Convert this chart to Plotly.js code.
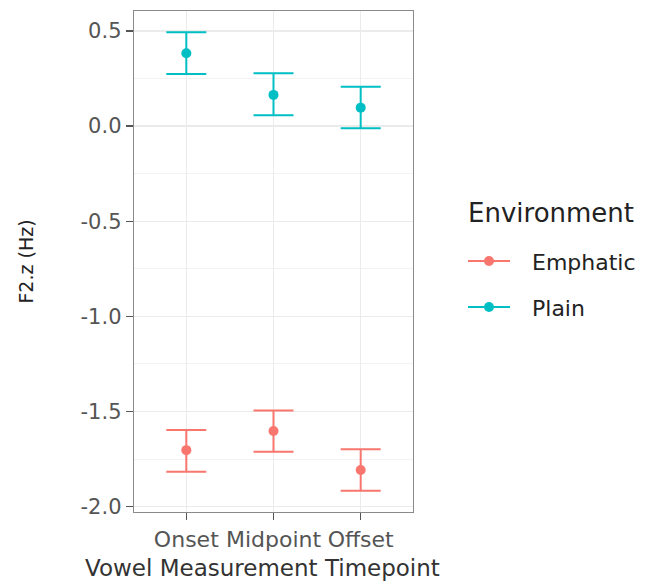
<!DOCTYPE html>
<html>
<head>
<meta charset="utf-8">
<script src="https://cdn.plot.ly/plotly-3.0.1.min.js"></script>
<style>html,body{margin:0;padding:0;background:#fff;}</style>
</head>
<body>
<div id="chart" style="width:645px;height:582px;"></div>
<script>
const categories = ['Onset', 'Midpoint', 'Offset'];
const seriesNames = ['Emphatic', 'Plain'];
const seriesColors = ['#F8766D', '#00BFC4'];
const legendTitle = 'Environment';
const xTitle = 'Vowel Measurement Timepoint';
const yTitle = 'F2.z (Hz)';

const emphaticMean  = [-1.703, -1.602, -1.807];
const emphaticLower = [-1.816, -1.711, -1.916];
const emphaticUpper = [-1.597, -1.495, -1.698];

const plainMean  = [0.383, 0.164, 0.097];
const plainLower = [0.274, 0.057, -0.011];
const plainUpper = [0.493, 0.278, 0.207];

const yTickVals = [-2.0, -1.5, -1.0, -0.5, 0.0, 0.5];
const yTickLabels = ['-2.0', '-1.5', '-1.0', '-0.5', '0.0', '0.5'];

const means = [emphaticMean, plainMean];
const lowers = [emphaticLower, plainLower];
const uppers = [emphaticUpper, plainUpper];

const FONT = 'DejaVu Sans, sans-serif';
const W = 645, H = 582;
const M = {l: 134, r: 232, t: 11, b: 70};
const PW = W - M.l - M.r, PH = H - M.t - M.b;
const px2x = px => (px - M.l) / PW;
const px2y = py => (H - M.b - py) / PH;

const traces = seriesNames.map((name, i) => ({
  type: 'scatter', mode: 'markers', name: name,
  x: categories, y: means[i],
  showlegend: false,
  marker: {color: seriesColors[i], size: 10},
  error_y: {
    type: 'data', symmetric: false,
    array: uppers[i].map((u, k) => u - means[i][k]),
    arrayminus: lowers[i].map((l, k) => means[i][k] - l),
    color: seriesColors[i], thickness: 2, width: 20
  },
  hoverinfo: 'skip'
}));

// ggplot-style legend (key line + dot) built from the series names/colours
const shapes = [];
const annotations = [];
annotations.push({
  xref: 'paper', yref: 'paper', x: px2x(466), y: px2y(213),
  xanchor: 'left', yanchor: 'middle', showarrow: false,
  text: legendTitle, font: {family: FONT, size: 26, color: '#222'}
});
seriesNames.forEach((name, i) => {
  const cy = 261 + i * 46;
  shapes.push({
    type: 'line', xref: 'paper', yref: 'paper',
    x0: px2x(468), x1: px2x(510), y0: px2y(cy), y1: px2y(cy),
    line: {color: seriesColors[i], width: 2}
  });
  shapes.push({
    type: 'circle', xref: 'paper', yref: 'paper',
    xsizemode: 'pixel', ysizemode: 'pixel',
    xanchor: px2x(489), yanchor: px2y(cy),
    x0: -5, x1: 5, y0: -5, y1: 5,
    fillcolor: seriesColors[i], line: {width: 0}
  });
  annotations.push({
    xref: 'paper', yref: 'paper', x: px2x(530), y: px2y(cy + 1),
    xanchor: 'left', yanchor: 'middle', showarrow: false,
    text: name, font: {family: FONT, size: 22, color: '#222'}
  });
});
annotations.push({
  xref: 'paper', yref: 'paper', x: px2x(262), y: px2y(568),
  xanchor: 'center', yanchor: 'middle', showarrow: false,
  text: xTitle, font: {family: FONT, size: 23, color: '#333'}
});

const layout = {
  width: W, height: H,
  margin: M,
  paper_bgcolor: '#ffffff', plot_bgcolor: '#ffffff',
  font: {family: FONT, color: '#222'},
  xaxis: {
    type: 'category', categoryorder: 'array', categoryarray: categories,
    range: [-0.6, 2.6],
    showgrid: true, gridcolor: '#EBEBEB', gridwidth: 1.5,
    zeroline: false,
    showline: true, mirror: true, linecolor: '#8a8a8a', linewidth: 1.3,
    ticks: 'outside', ticklen: 7, tickwidth: 1.3, tickcolor: '#555',
    tickfont: {family: FONT, size: 22, color: '#555'}
  },
  yaxis: {
    range: [-2.028, 0.605],
    tickvals: yTickVals, ticktext: yTickLabels,
    showgrid: true, gridcolor: '#EBEBEB', gridwidth: 1.5,
    minor: {dtick: 0.25, showgrid: true, gridcolor: '#F3F3F3', gridwidth: 1, ticks: ''},
    zeroline: false,
    showline: true, mirror: true, linecolor: '#8a8a8a', linewidth: 1.3,
    ticks: 'outside', ticklen: 7, tickwidth: 1.3, tickcolor: '#555',
    tickfont: {family: FONT, size: 21, color: '#555'},
    title: {text: yTitle, font: {family: FONT, size: 19, color: '#222'}, standoff: 42}
  },
  shapes: shapes,
  annotations: annotations,
  showlegend: false
};

Plotly.newPlot('chart', traces, layout, {displayModeBar: false, staticPlot: true});
</script>
</body>
</html>
